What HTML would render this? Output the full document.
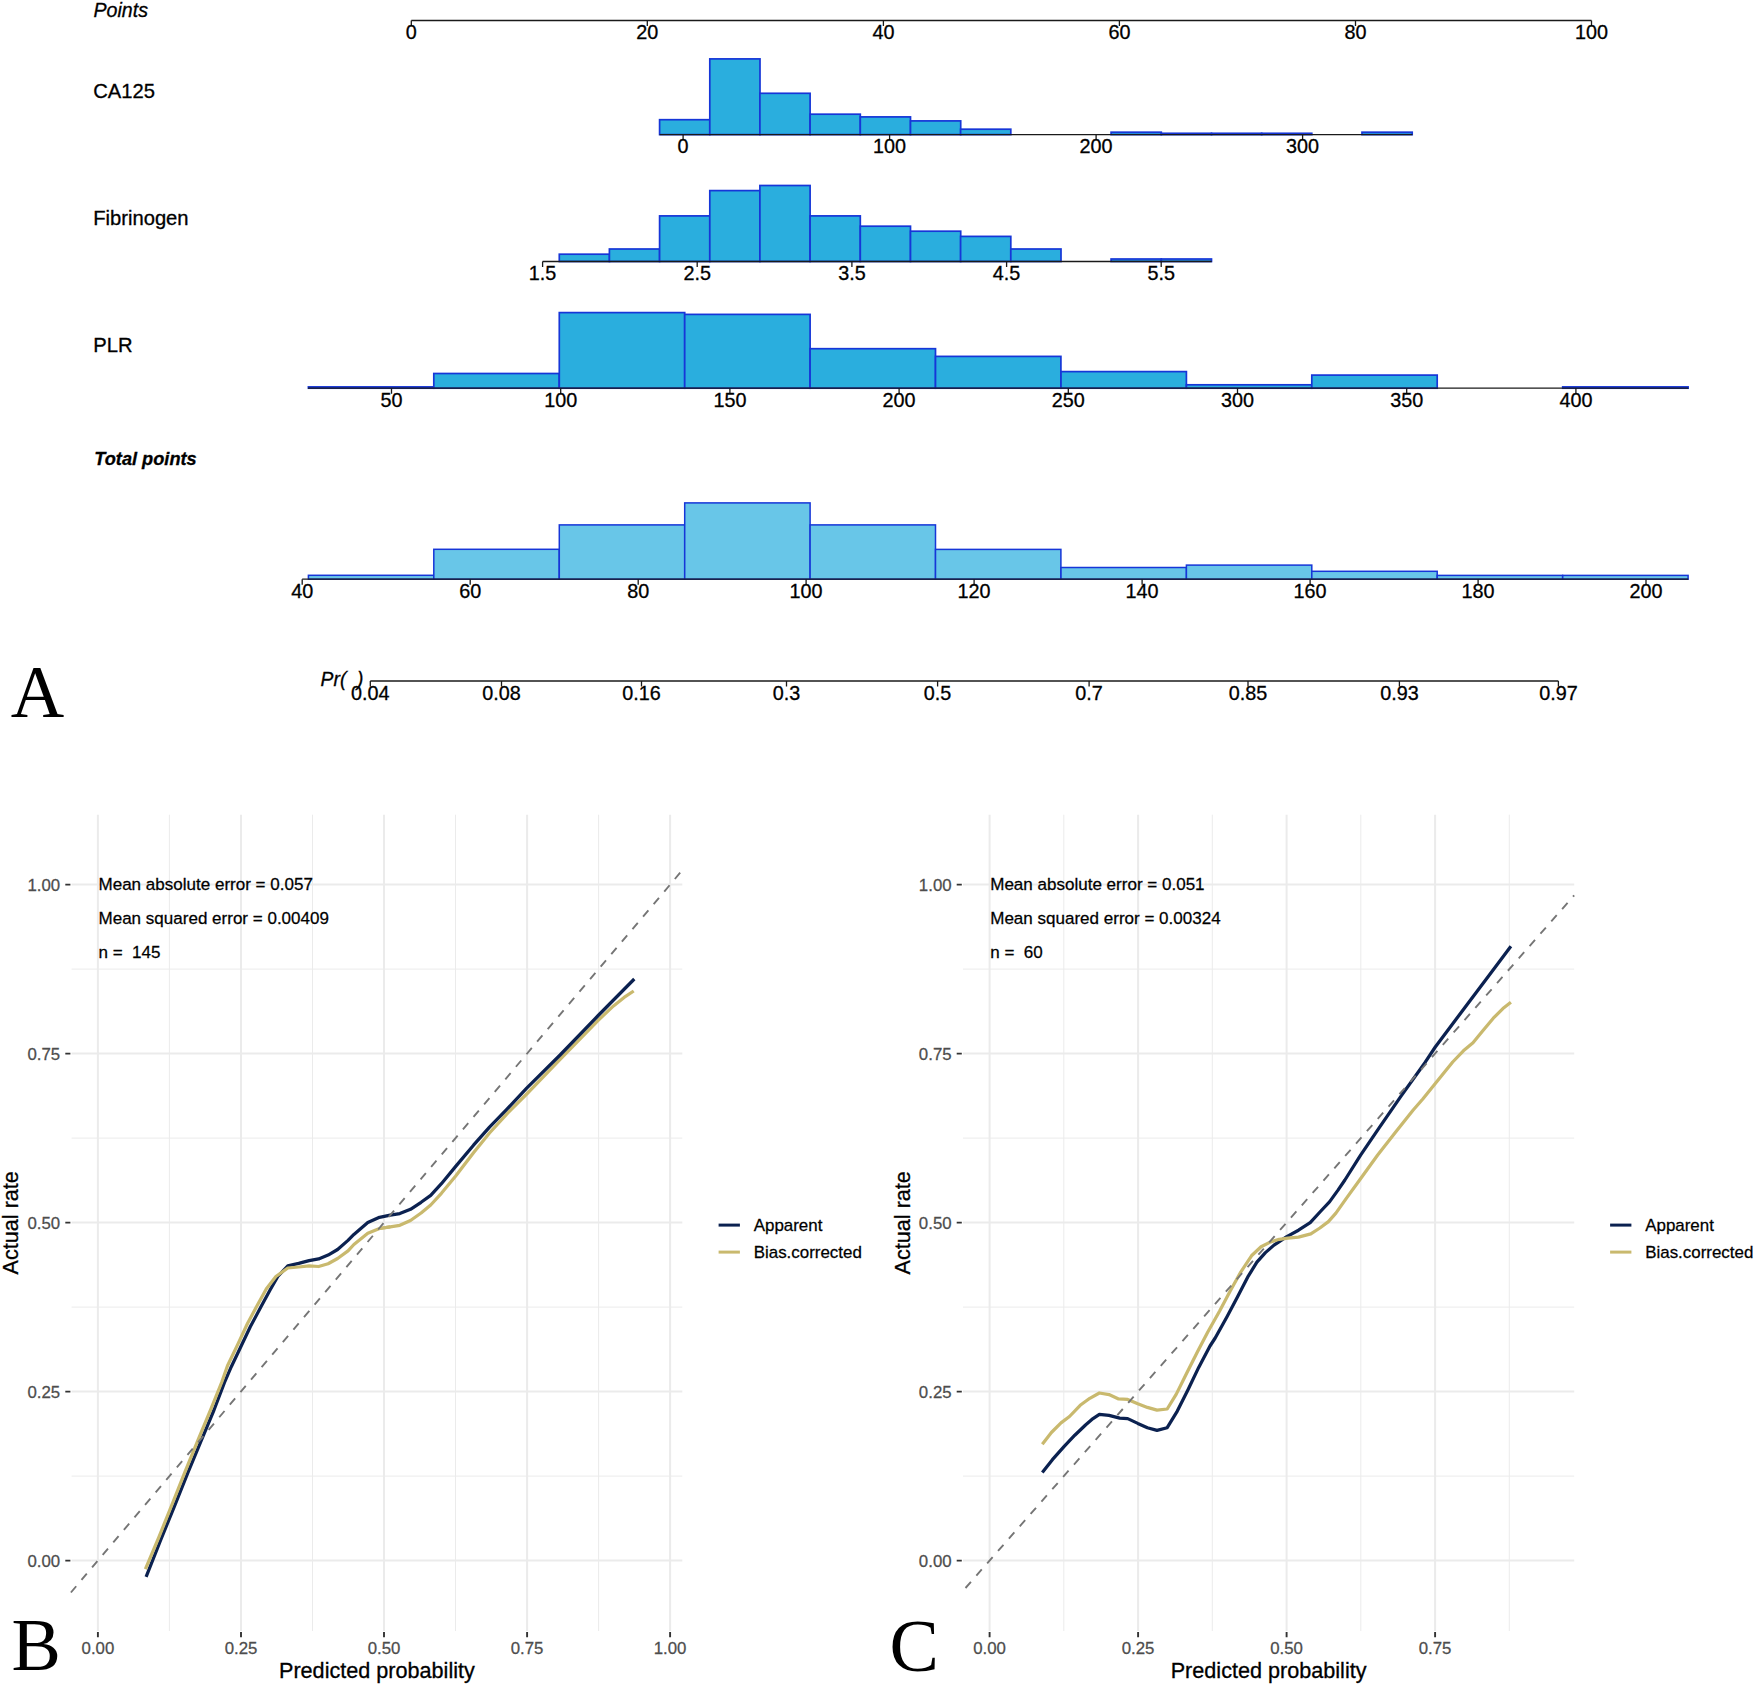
<!DOCTYPE html>
<html lang="en"><head><meta charset="utf-8"><title>Nomogram and calibration curves</title>
<style>
html,body{margin:0;padding:0;background:#fff;}
svg{display:block;}
text{font-family:"Liberation Sans", sans-serif;}
.nl{font-size:19.8px;fill:#000;stroke:#000;stroke-width:.3;}
.vl{font-size:20.2px;fill:#000;stroke:#000;stroke-width:.3;}
.ax{stroke:#1a1a1a;stroke-width:1.3;fill:none;}
.bar{fill:#2aaede;stroke:#1636d8;stroke-width:1.7;stroke-linejoin:miter;}
.bar2{fill:#68c6e8;stroke:#1636d8;stroke-width:1.5;stroke-linejoin:miter;}
.gM{stroke:#ebebeb;stroke-width:2;fill:none;}
.gm{stroke:#ebebeb;stroke-width:1;fill:none;}
.tk{stroke:#333;stroke-width:1.9;fill:none;}
.tl{font-size:16.5px;fill:#4d4d4d;stroke:#4d4d4d;stroke-width:.25;}
.an{font-size:16.7px;fill:#000;stroke:#000;stroke-width:.25;}
.at{font-size:21.2px;fill:#000;stroke:#000;stroke-width:.3;}
.lg{font-size:16.6px;fill:#000;stroke:#000;stroke-width:.25;}
.pl{font-family:"Liberation Serif", serif;font-size:74px;fill:#000;}
</style></head><body>
<svg width="1755" height="1686" viewBox="0 0 1755 1686">
<rect x="0" y="0" width="1755" height="1686" fill="#ffffff"/>

<text class="nl" x="93.5" y="17" font-style="italic" style="font-size:19.6px">Points</text>
<path class="ax" d="M411.3 20.5H1591.5"/>
<path class="ax" d="M411.3 20.5v5.5M647.3 20.5v5.5M883.4 20.5v5.5M1119.4 20.5v5.5M1355.5 20.5v5.5M1591.5 20.5v5.5"/>
<text class="nl" x="411.3" y="39.3" text-anchor="middle">0</text>
<text class="nl" x="647.3" y="39.3" text-anchor="middle">20</text>
<text class="nl" x="883.4" y="39.3" text-anchor="middle">40</text>
<text class="nl" x="1119.4" y="39.3" text-anchor="middle">60</text>
<text class="nl" x="1355.5" y="39.3" text-anchor="middle">80</text>
<text class="nl" x="1591.5" y="39.3" text-anchor="middle">100</text>
<text class="vl" x="93.2" y="98.4">CA125</text>
<rect class="bar" x="659.6" y="119.7" width="50.2" height="14.9"/>
<rect class="bar" x="709.8" y="58.9" width="50.2" height="75.7"/>
<rect class="bar" x="759.9" y="93.3" width="50.2" height="41.3"/>
<rect class="bar" x="810.1" y="114.2" width="50.2" height="20.4"/>
<rect class="bar" x="860.3" y="116.9" width="50.2" height="17.7"/>
<rect class="bar" x="910.5" y="120.9" width="50.2" height="13.7"/>
<rect class="bar" x="960.6" y="129.2" width="50.2" height="5.4"/>
<rect class="bar" x="1111.1" y="132.2" width="50.2" height="2.4"/>
<rect class="bar" x="1161.3" y="133.3" width="50.2" height="1.3"/>
<rect class="bar" x="1211.5" y="133.3" width="50.2" height="1.3"/>
<rect class="bar" x="1261.6" y="133.3" width="50.2" height="1.3"/>
<rect class="bar" x="1362.0" y="132.2" width="50.2" height="2.4"/>
<path class="ax" d="M659.6 134.6H1412.4"/>
<path class="ax" d="M683.1 134.6v5.5M889.6 134.6v5.5M1096.1 134.6v5.5M1302.6 134.6v5.5"/>
<text class="nl" x="683.1" y="153.4" text-anchor="middle">0</text>
<text class="nl" x="889.6" y="153.4" text-anchor="middle">100</text>
<text class="nl" x="1096.1" y="153.4" text-anchor="middle">200</text>
<text class="nl" x="1302.6" y="153.4" text-anchor="middle">300</text>
<text class="vl" x="93.2" y="225.2">Fibrinogen</text>
<rect class="bar" x="559.3" y="254.2" width="50.2" height="7.3"/>
<rect class="bar" x="609.4" y="249.0" width="50.2" height="12.5"/>
<rect class="bar" x="659.6" y="215.9" width="50.2" height="45.6"/>
<rect class="bar" x="709.8" y="190.6" width="50.2" height="70.9"/>
<rect class="bar" x="759.9" y="185.5" width="50.2" height="76.0"/>
<rect class="bar" x="810.1" y="215.9" width="50.2" height="45.6"/>
<rect class="bar" x="860.3" y="226.2" width="50.2" height="35.3"/>
<rect class="bar" x="910.5" y="231.2" width="50.2" height="30.3"/>
<rect class="bar" x="960.6" y="236.4" width="50.2" height="25.1"/>
<rect class="bar" x="1010.8" y="249.0" width="50.2" height="12.5"/>
<rect class="bar" x="1111.1" y="259.0" width="50.2" height="2.5"/>
<rect class="bar" x="1161.3" y="259.0" width="50.2" height="2.5"/>
<path class="ax" d="M542.6 261.5H1211.7"/>
<path class="ax" d="M542.6 261.5v5.5M697.2 261.5v5.5M851.9 261.5v5.5M1006.6 261.5v5.5M1161.2 261.5v5.5"/>
<text class="nl" x="542.6" y="280.3" text-anchor="middle">1.5</text>
<text class="nl" x="697.2" y="280.3" text-anchor="middle">2.5</text>
<text class="nl" x="851.9" y="280.3" text-anchor="middle">3.5</text>
<text class="nl" x="1006.6" y="280.3" text-anchor="middle">4.5</text>
<text class="nl" x="1161.2" y="280.3" text-anchor="middle">5.5</text>
<text class="vl" x="93.2" y="351.9">PLR</text>
<rect class="bar" x="308.4" y="386.9" width="125.4" height="1.3"/>
<rect class="bar" x="433.8" y="373.5" width="125.4" height="14.7"/>
<rect class="bar" x="559.3" y="312.6" width="125.4" height="75.6"/>
<rect class="bar" x="684.7" y="314.4" width="125.4" height="73.8"/>
<rect class="bar" x="810.1" y="348.7" width="125.4" height="39.5"/>
<rect class="bar" x="935.5" y="356.4" width="125.4" height="31.8"/>
<rect class="bar" x="1061.0" y="371.6" width="125.4" height="16.6"/>
<rect class="bar" x="1186.4" y="384.8" width="125.4" height="3.4"/>
<rect class="bar" x="1311.8" y="375.1" width="125.4" height="13.1"/>
<rect class="bar" x="1562.7" y="386.9" width="125.4" height="1.3"/>
<path class="ax" d="M308.0 388.2H1688.3"/>
<path class="ax" d="M391.5 388.2v5.5M560.7 388.2v5.5M729.9 388.2v5.5M899.1 388.2v5.5M1068.3 388.2v5.5M1237.5 388.2v5.5M1406.7 388.2v5.5M1575.9 388.2v5.5"/>
<text class="nl" x="391.5" y="407.0" text-anchor="middle">50</text>
<text class="nl" x="560.7" y="407.0" text-anchor="middle">100</text>
<text class="nl" x="729.9" y="407.0" text-anchor="middle">150</text>
<text class="nl" x="899.1" y="407.0" text-anchor="middle">200</text>
<text class="nl" x="1068.3" y="407.0" text-anchor="middle">250</text>
<text class="nl" x="1237.5" y="407.0" text-anchor="middle">300</text>
<text class="nl" x="1406.7" y="407.0" text-anchor="middle">350</text>
<text class="nl" x="1575.9" y="407.0" text-anchor="middle">400</text>
<text class="nl" x="94.3" y="465.4" font-style="italic" font-weight="bold" style="font-size:18.2px">Total points</text>
<rect class="bar2" x="308.4" y="575.3" width="125.4" height="3.9"/>
<rect class="bar2" x="433.8" y="549.3" width="125.4" height="29.9"/>
<rect class="bar2" x="559.3" y="524.9" width="125.4" height="54.3"/>
<rect class="bar2" x="684.7" y="502.9" width="125.4" height="76.3"/>
<rect class="bar2" x="810.1" y="524.9" width="125.4" height="54.3"/>
<rect class="bar2" x="935.5" y="549.4" width="125.4" height="29.8"/>
<rect class="bar2" x="1061.0" y="567.5" width="125.4" height="11.7"/>
<rect class="bar2" x="1186.4" y="565.1" width="125.4" height="14.1"/>
<rect class="bar2" x="1311.8" y="571.3" width="125.4" height="7.9"/>
<rect class="bar2" x="1437.2" y="575.4" width="125.4" height="3.8"/>
<rect class="bar2" x="1562.7" y="575.4" width="125.4" height="3.8"/>
<path class="ax" d="M302.2 579.2H1688.3"/>
<path class="ax" d="M302.2 579.2v5.5M470.2 579.2v5.5M638.2 579.2v5.5M806.1 579.2v5.5M974.1 579.2v5.5M1142.1 579.2v5.5M1310.1 579.2v5.5M1478.1 579.2v5.5M1646.0 579.2v5.5"/>
<text class="nl" x="302.2" y="598.0" text-anchor="middle">40</text>
<text class="nl" x="470.2" y="598.0" text-anchor="middle">60</text>
<text class="nl" x="638.2" y="598.0" text-anchor="middle">80</text>
<text class="nl" x="806.1" y="598.0" text-anchor="middle">100</text>
<text class="nl" x="974.1" y="598.0" text-anchor="middle">120</text>
<text class="nl" x="1142.1" y="598.0" text-anchor="middle">140</text>
<text class="nl" x="1310.1" y="598.0" text-anchor="middle">160</text>
<text class="nl" x="1478.1" y="598.0" text-anchor="middle">180</text>
<text class="nl" x="1646.0" y="598.0" text-anchor="middle">200</text>
<text class="nl" x="320.6" y="686" font-style="italic" style="font-size:19.3px;white-space:pre" xml:space="preserve">Pr(  )</text>
<path class="ax" d="M370.3 681.0H1558.4"/>
<path class="ax" d="M370.3 681.0v5.5M501.5 681.0v5.5M641.5 681.0v5.5M786.5 681.0v5.5M937.6 681.0v5.5M1089.1 681.0v5.5M1248.0 681.0v5.5M1399.4 681.0v5.5M1558.4 681.0v5.5"/>
<text class="nl" x="370.3" y="699.8" text-anchor="middle">0.04</text>
<text class="nl" x="501.5" y="699.8" text-anchor="middle">0.08</text>
<text class="nl" x="641.5" y="699.8" text-anchor="middle">0.16</text>
<text class="nl" x="786.5" y="699.8" text-anchor="middle">0.3</text>
<text class="nl" x="937.6" y="699.8" text-anchor="middle">0.5</text>
<text class="nl" x="1089.1" y="699.8" text-anchor="middle">0.7</text>
<text class="nl" x="1248.0" y="699.8" text-anchor="middle">0.85</text>
<text class="nl" x="1399.4" y="699.8" text-anchor="middle">0.93</text>
<text class="nl" x="1558.4" y="699.8" text-anchor="middle">0.97</text>
<text class="pl" x="10.8" y="717">A</text>
<text class="pl" x="11.6" y="1670">B</text>
<text class="pl" x="889.4" y="1670.8">C</text>
<path class="gm" d="M169.4 814.7V1631.0M312.5 814.7V1631.0M455.5 814.7V1631.0M598.6 814.7V1631.0M71.6 1476.1H682.3M71.6 1307.1H682.3M71.6 1138.1H682.3M71.6 969.1H682.3"/>
<path class="gM" d="M97.9 814.7V1631.0M241.0 814.7V1631.0M384.0 814.7V1631.0M527.1 814.7V1631.0M670.1 814.7V1631.0M71.6 1560.6H682.3M71.6 1391.6H682.3M71.6 1222.6H682.3M71.6 1053.6H682.3M71.6 884.6H682.3"/>
<path class="tk" d="M97.9 1632.1v5.1M241.0 1632.1v5.1M384.0 1632.1v5.1M527.1 1632.1v5.1M670.1 1632.1v5.1M70.4 1560.6h-5.1M70.4 1391.6h-5.1M70.4 1222.6h-5.1M70.4 1053.6h-5.1M70.4 884.6h-5.1"/>
<text class="tl" transform="translate(97.9 1653.8) scale(1.02 1)" text-anchor="middle" xml:space="preserve">0.00</text>
<text class="tl" transform="translate(241.0 1653.8) scale(1.02 1)" text-anchor="middle" xml:space="preserve">0.25</text>
<text class="tl" transform="translate(384.0 1653.8) scale(1.02 1)" text-anchor="middle" xml:space="preserve">0.50</text>
<text class="tl" transform="translate(527.1 1653.8) scale(1.02 1)" text-anchor="middle" xml:space="preserve">0.75</text>
<text class="tl" transform="translate(670.1 1653.8) scale(1.02 1)" text-anchor="middle" xml:space="preserve">1.00</text>
<text class="tl" transform="translate(60.2 1566.6) scale(1.02 1)" text-anchor="end" xml:space="preserve">0.00</text>
<text class="tl" transform="translate(60.2 1397.6) scale(1.02 1)" text-anchor="end" xml:space="preserve">0.25</text>
<text class="tl" transform="translate(60.2 1228.6) scale(1.02 1)" text-anchor="end" xml:space="preserve">0.50</text>
<text class="tl" transform="translate(60.2 1059.6) scale(1.02 1)" text-anchor="end" xml:space="preserve">0.75</text>
<text class="tl" transform="translate(60.2 890.6) scale(1.02 1)" text-anchor="end" xml:space="preserve">1.00</text>
<text class="an" transform="translate(98.5 890.1) scale(1.02 1)" text-anchor="start" xml:space="preserve">Mean absolute error = 0.057</text>
<text class="an" transform="translate(98.5 923.9) scale(1.02 1)" text-anchor="start" xml:space="preserve">Mean squared error = 0.00409</text>
<text class="an" transform="translate(98.5 957.7) scale(1.02 1)" text-anchor="start" xml:space="preserve">n =  145</text>
<text class="at" transform="translate(376.9 1678.1) scale(1.02 1)" text-anchor="middle" xml:space="preserve">Predicted probability</text>
<text class="at" transform="translate(18.0 1222.8) rotate(-90) scale(1.02 1)" text-anchor="middle" xml:space="preserve">Actual rate</text>
<path d="M718.6 1225.1h21.3" stroke="#0b2150" stroke-width="3" fill="none"/>
<text class="lg" transform="translate(753.7 1231.0) scale(1.02 1)" text-anchor="start" xml:space="preserve">Apparent</text>
<path d="M718.6 1252.1h21.3" stroke="#c9b96e" stroke-width="3" fill="none"/>
<text class="lg" transform="translate(753.7 1258.0) scale(1.02 1)" text-anchor="start" xml:space="preserve">Bias.corrected</text>
<path d="M379.5 1228.5L390.2 1226.9L399.8 1225.3L410.5 1220.5L421.1 1213.0L430.7 1205.0L441.4 1193.3L455.5 1176.2L473.5 1152.7L489.5 1133.0L506.5 1114.3L526.7 1094.0L560.1 1059.3L598.2 1020.3L613.5 1005.9L624.1 997.4L633.7 991.0" stroke="#c9b96e" stroke-width="3.25" fill="none" stroke-linejoin="round" stroke-linecap="butt"/>
<path d="M146.1 1576.8L160.5 1540.5L174.8 1505.3L187.9 1472.6L200.9 1441.3L214.0 1410.0L224.4 1382.6L231.3 1366.7L240.8 1346.7L250.3 1326.8L260.7 1307.3L270.2 1289.8L277.8 1276.5L287.8 1265.9L298.7 1263.4L309.1 1260.6L318.6 1258.9L328.1 1255.1L337.6 1249.5L348.0 1240.4L353.9 1234.4L367.8 1222.6L379.5 1217.3L390.2 1215.2L399.8 1213.6L410.5 1209.3L421.1 1202.3L430.7 1195.4L441.4 1183.7L455.5 1166.6L473.5 1145.2L489.5 1127.1L506.5 1109.6L526.7 1088.1L560.1 1055.0L598.2 1015.5L634.3 979.0" stroke="#0b2150" stroke-width="3.25" fill="none" stroke-linejoin="round" stroke-linecap="butt"/>
<path d="M145.4 1569.2L159.1 1536.6L172.2 1504.0L185.2 1471.3L198.3 1439.4L211.3 1408.1L221.8 1382.0L227.5 1365.7L238.0 1343.9L247.5 1323.5L256.9 1305.9L266.4 1288.8L275.9 1276.5L287.8 1268.0L298.7 1267.0L309.1 1265.9L318.6 1266.5L328.1 1263.7L337.6 1258.5L348.0 1250.9L353.9 1244.5L367.8 1233.3L379.5 1228.5L390.2 1226.9" stroke="#c9b96e" stroke-width="3.25" fill="none" stroke-linejoin="round" stroke-linecap="butt"/>
<path d="M70.9 1592.5L682.3 870.2" stroke="#757575" stroke-width="1.9" stroke-dasharray="8.2 8.2" fill="none"/>
<path class="gm" d="M1063.8 814.7V1631.0M1212.3 814.7V1631.0M1360.8 814.7V1631.0M1509.3 814.7V1631.0M963.0 1476.1H1574.2M963.0 1307.1H1574.2M963.0 1138.1H1574.2M963.0 969.1H1574.2"/>
<path class="gM" d="M989.6 814.7V1631.0M1138.1 814.7V1631.0M1286.6 814.7V1631.0M1435.1 814.7V1631.0M963.0 1560.6H1574.2M963.0 1391.6H1574.2M963.0 1222.6H1574.2M963.0 1053.6H1574.2M963.0 884.6H1574.2"/>
<path class="tk" d="M989.6 1632.1v5.1M1138.1 1632.1v5.1M1286.6 1632.1v5.1M1435.1 1632.1v5.1M961.8 1560.6h-5.1M961.8 1391.6h-5.1M961.8 1222.6h-5.1M961.8 1053.6h-5.1M961.8 884.6h-5.1"/>
<text class="tl" transform="translate(989.6 1653.8) scale(1.02 1)" text-anchor="middle" xml:space="preserve">0.00</text>
<text class="tl" transform="translate(1138.1 1653.8) scale(1.02 1)" text-anchor="middle" xml:space="preserve">0.25</text>
<text class="tl" transform="translate(1286.6 1653.8) scale(1.02 1)" text-anchor="middle" xml:space="preserve">0.50</text>
<text class="tl" transform="translate(1435.1 1653.8) scale(1.02 1)" text-anchor="middle" xml:space="preserve">0.75</text>
<text class="tl" transform="translate(951.6 1566.6) scale(1.02 1)" text-anchor="end" xml:space="preserve">0.00</text>
<text class="tl" transform="translate(951.6 1397.6) scale(1.02 1)" text-anchor="end" xml:space="preserve">0.25</text>
<text class="tl" transform="translate(951.6 1228.6) scale(1.02 1)" text-anchor="end" xml:space="preserve">0.50</text>
<text class="tl" transform="translate(951.6 1059.6) scale(1.02 1)" text-anchor="end" xml:space="preserve">0.75</text>
<text class="tl" transform="translate(951.6 890.6) scale(1.02 1)" text-anchor="end" xml:space="preserve">1.00</text>
<text class="an" transform="translate(990.2 890.1) scale(1.02 1)" text-anchor="start" xml:space="preserve">Mean absolute error = 0.051</text>
<text class="an" transform="translate(990.2 923.9) scale(1.02 1)" text-anchor="start" xml:space="preserve">Mean squared error = 0.00324</text>
<text class="an" transform="translate(990.2 957.7) scale(1.02 1)" text-anchor="start" xml:space="preserve">n =  60</text>
<text class="at" transform="translate(1268.6 1678.1) scale(1.02 1)" text-anchor="middle" xml:space="preserve">Predicted probability</text>
<text class="at" transform="translate(909.5 1222.8) rotate(-90) scale(1.02 1)" text-anchor="middle" xml:space="preserve">Actual rate</text>
<path d="M1610.1 1225.1h21.3" stroke="#0b2150" stroke-width="3" fill="none"/>
<text class="lg" transform="translate(1645.2 1231.0) scale(1.02 1)" text-anchor="start" xml:space="preserve">Apparent</text>
<path d="M1610.1 1252.1h21.3" stroke="#c9b96e" stroke-width="3" fill="none"/>
<text class="lg" transform="translate(1645.2 1258.0) scale(1.02 1)" text-anchor="start" xml:space="preserve">Bias.corrected</text>
<path d="M1042.3 1472.5L1052.4 1459.7L1064.2 1446.4L1074.8 1435.2L1085.5 1425.0L1093.0 1418.6L1099.4 1414.3L1109.0 1415.4L1119.7 1418.1L1127.7 1418.6L1137.8 1423.4L1147.4 1427.7L1157.0 1430.4L1167.2 1427.7L1177.3 1411.1L1188.0 1389.8L1198.7 1367.4L1210.0 1346.0L1215.2 1338.0L1227.0 1316.7L1237.7 1296.4L1248.3 1276.1L1256.9 1262.2L1265.4 1252.6L1274.0 1245.1L1286.8 1236.6L1298.5 1230.2L1310.2 1222.7L1320.9 1211.0L1329.5 1201.9L1338.0 1190.1L1344.9 1180.0L1360.6 1155.2L1379.8 1126.8L1401.2 1095.9L1424.9 1062.7L1435.3 1047.0L1463.4 1009.5L1490.1 973.9L1510.9 946.2" stroke="#0b2150" stroke-width="3.25" fill="none" stroke-linejoin="round" stroke-linecap="butt"/>
<path d="M1042.3 1444.2L1051.4 1432.5L1061.0 1422.9L1069.5 1416.5L1080.2 1405.3L1089.8 1398.3L1099.4 1393.0L1109.0 1394.6L1118.6 1398.9L1127.7 1399.4L1137.8 1403.7L1147.4 1407.4L1157.0 1410.1L1167.2 1409.0L1176.3 1394.1L1186.9 1372.7L1197.6 1351.4L1207.8 1332.0L1219.5 1311.3L1230.2 1291.0L1240.9 1271.8L1251.5 1255.8L1261.1 1246.7L1270.7 1241.9L1279.3 1239.3L1287.8 1238.2L1298.5 1237.1L1310.8 1233.9L1319.9 1228.0L1328.4 1221.6L1335.9 1213.1L1346.5 1198.1L1360.0 1179.5L1377.5 1155.2L1394.1 1133.9L1413.0 1110.2L1422.8 1099.0L1435.3 1083.6L1452.7 1062.0L1463.4 1050.8L1473.0 1042.8L1482.6 1031.0L1493.3 1018.2L1502.9 1008.6L1510.9 1002.2" stroke="#c9b96e" stroke-width="3.25" fill="none" stroke-linejoin="round" stroke-linecap="butt"/>
<path d="M965.5 1588.0L1574.2 895.3" stroke="#757575" stroke-width="1.9" stroke-dasharray="8.217 8.217" fill="none"/>
</svg>
</body></html>
